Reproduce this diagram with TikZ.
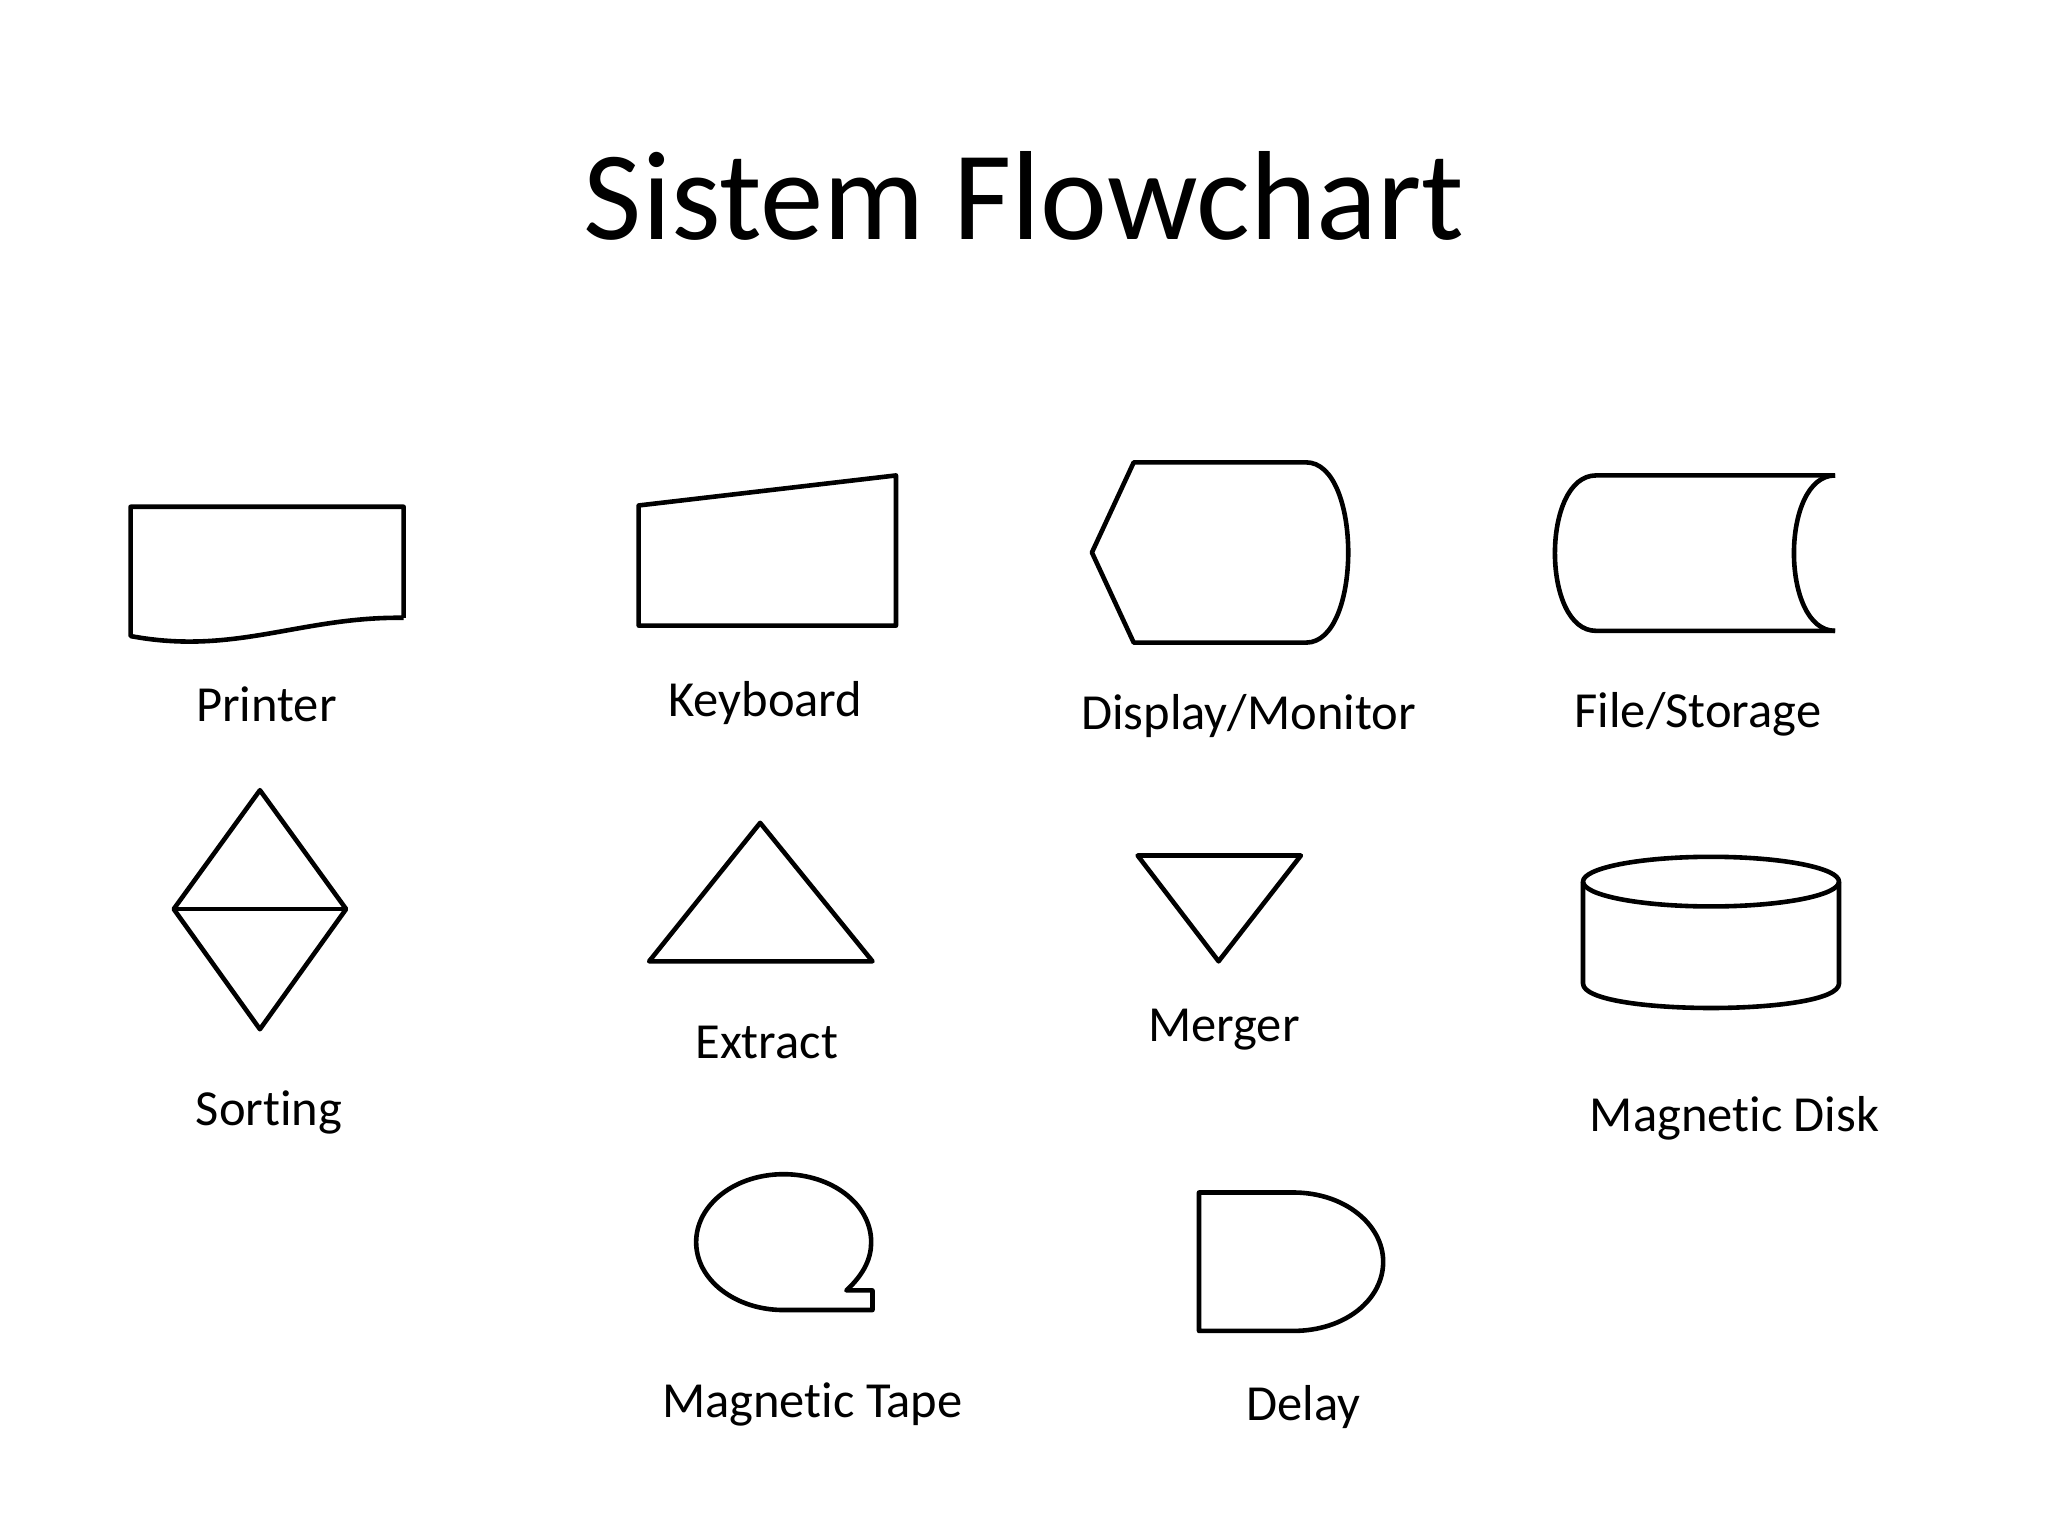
\documentclass[tikz,border=0pt]{standalone}
\usepackage{fontspec}
\setmainfont{Carlito}[Ligatures={NoCommon,NoContextual}]
\begin{document}
\begin{tikzpicture}[x=0.01cm,y=-0.01cm,line width=1pt,line join=round,
  lbl/.style={font=\fontsize{11}{13}\selectfont,inner sep=0pt}]
\useasboundingbox (0,0) rectangle (1568,1176);
\node[font=\fontsize{27.6}{32}\selectfont,inner sep=0pt] (title) at (784,150) {Sistem Flowchart};
% Printer
\draw (309,473) -- (309,388) -- (100,388) -- (100,487) .. controls (180,502) and (230,472) .. (309,473);
% Keyboard
\draw (489,387) -- (686,364) -- (686,479) -- (489,479) -- cycle;
% Display
\draw (868,354) -- (1000,354) .. controls (1043,354) and (1043,492) .. (1000,492) -- (868,492) -- (836,423) -- cycle;
% File/Storage
\draw (1405,364) -- (1222,364) .. controls (1180,364) and (1180,483) .. (1222,483) -- (1405,483);
\draw (1405,364) .. controls (1363,364) and (1363,483) .. (1405,483);
% Sorting
\draw (199,605) -- (265,696) -- (199,788) -- (133,696) -- cycle;
\draw (133,696) -- (265,696);
% Extract
\draw (582,630) -- (668,736) -- (497,736) -- cycle;
% Merger
\draw (871,655) -- (996,655) -- (933,736) -- cycle;
% Magnetic disk
\draw (1310,675) ellipse [x radius=98, y radius=19];
\draw (1212,675) -- (1212,753) .. controls (1212,778) and (1408,778) .. (1408,753) -- (1408,675);
% Magnetic tape
\draw (600,1003) -- (668,1003) -- (668,988) -- (648,988) .. controls (662,975) and (667,963) .. (667,951) .. controls (667,922) and (637,899) .. (600,899) .. controls (563,899) and (533,922) .. (533,951) .. controls (533,980) and (563,1003) .. (600,1003);
% Delay
\draw (918,913) -- (990,913) .. controls (1030,913) and (1059,938) .. (1059,966) .. controls (1059,995) and (1030,1019) .. (990,1019) -- (918,1019) -- cycle;
% labels
\node[lbl] (l1) at (204,539) {Printer};
\node[lbl] (l2) at (586,538) {Keyboard};
\node[lbl] (l3) at (956,548) {Display/Monitor};
\node[lbl] (l4) at (1300,547) {File/Storage};
\node[lbl] (l5) at (206,852) {Sort\kern0pt ing};
\node[lbl] (l6) at (587,798) {Extract};
\node[lbl] (l7) at (937,788) {Merger};
\node[lbl] (l8) at (1328,856) {Magnet\kern0pt ic Disk};
\node[lbl] (l9) at (622,1075) {Magnet\kern0pt ic Tape};
\node[lbl] (l10) at (998,1077) {Delay};
\end{tikzpicture}
\end{document}
